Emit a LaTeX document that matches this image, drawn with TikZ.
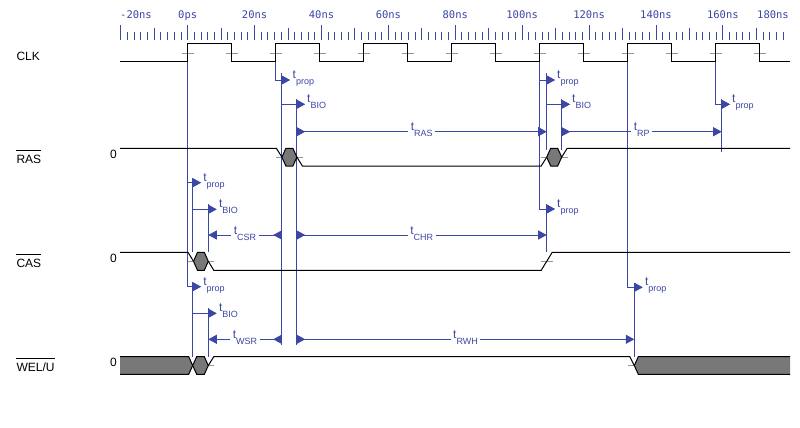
\documentclass[tikz,border=0pt]{standalone}
\usepackage{fontspec}
\setmainfont{Liberation Sans}
\newfontfamily\rulerfont{DejaVu Sans Mono}
\usetikzlibrary{arrows.meta}
\definecolor{tdblue}{RGB}{60,70,165}
\definecolor{tdgray}{RGB}{120,120,120}
\definecolor{tdmark}{RGB}{150,150,150}
\newcommand{\tsub}[1]{t\raisebox{-6pt}{\fontsize{9}{9}\selectfont #1}}
\tikzset{
  wave/.style={line width=1pt, black},
  uncert/.style={wave, fill=tdgray},
  edgemark/.style={tdmark, line width=0.8pt},
  marker/.style={tdblue, line width=1pt},
  dly/.style={marker, -{Triangle[length=8.5pt,width=9pt]}},
  cstr/.style={marker, {Triangle[length=8.5pt,width=9pt,reversed]}-{Triangle[length=8.5pt,width=9pt]}},
  tlab/.style={text=tdblue, font=\fontsize{12}{12}\selectfont, inner sep=0pt, anchor=base west},
  tmid/.style={tlab, anchor=base, fill=white, inner xsep=2.5pt, inner ysep=1pt},
  sig/.style={font=\fontsize{12}{12}\selectfont, inner sep=0pt, anchor=base west},
  rlab/.style={text=tdblue, font=\rulerfont\fontsize{10.5}{10.5}\selectfont, inner sep=0pt, anchor=base},
  rtick/.style={tdblue, line width=1pt}
}
\begin{document}
\begin{tikzpicture}[x=1pt,y=-1pt]
  \path[use as bounding box, fill=white] (0,0) rectangle (800,428);

  %% time ruler
  \foreach \i in {0,...,99} {
    \pgfmathsetmacro\tx{120.8+6.69*\i}
    \pgfmathtruncatemacro\m{mod(\i,10)}
    \ifnum\m=0 \def\ty{25}\else\ifnum\m=5 \def\ty{28.3}\else\def\ty{32.3}\fi\fi
    \draw[rtick] (\tx,40) -- (\tx,\ty);
  }
  \node[rlab, anchor=base west] (r0) at (120,19) {-20ns};
  \foreach \lab [count=\k from 1] in {0ps,20ns,40ns,60ns,80ns,100ns,120ns,140ns,160ns}
    \node[rlab] (r\k) at ({187.7+66.9*(\k-1)},19) {\lab};
  \node[rlab, anchor=base east] (r10) at (789,19) {180ns};

  %% signal names
  \node[sig] (lclk) at (16.3,60.3) {CLK};
  \node[sig] (lras) at (16.3,163.3) {RAS};
  \node[sig] (lcas) at (16.3,267.3) {CAS};
  \node[sig] (lwe)  at (16.3,371.7) {WEL/U};
  \foreach \n in {lras,lcas,lwe}
    \draw[line width=1pt] ([yshift=4pt]\n.north west) -- ([yshift=4pt]\n.north east);
  \node[sig] (zras) at (110,158.3) {0};
  \node[sig] (zcas) at (110,262.7) {0};
  \node[sig] (zwe)  at (110,366.7) {0};

  %% markers from clock edges
  \draw[dly] (187.7,62) |- (201.2,286.7);
  \draw[dly] (187.7,182.7) -- (201.2,182.7);
  \draw[dly] (275.7,62) |- (290.2,80);
  \draw[dly] (539.7,62) |- (555.2,209);
  \draw[dly] (539.7,80) -- (555.2,80);
  \draw[dly] (627.7,62) |- (642.8,287.3);
  \draw[dly] (715.7,62) |- (730.2,104.3);

  \draw[marker] (281.7,73) -- (281.7,345);
  \draw[marker] (296.7,99.3) -- (296.7,345);
  \draw[marker] (546.7,73) -- (546.7,150);
  \draw[marker] (561.7,99.3) -- (561.7,150);
  \draw[marker] (721.7,99.3) -- (721.7,151.7);
  \draw[marker] (192.7,178) -- (192.7,252.3);
  \draw[marker] (208.3,204.3) -- (208.3,252.3);
  \draw[marker] (546.7,204) -- (546.7,252.3);
  \draw[marker] (192.7,282) -- (192.7,356.7);
  \draw[marker] (208.3,308.3) -- (208.3,356.7);
  \draw[marker] (634.3,282.5) -- (634.3,356.7);

  \draw[dly] (281.7,104.3) -- (305.2,104.3);
  \draw[dly] (546.7,104.3) -- (570.2,104.3);
  \draw[dly] (192.7,209.3) -- (216.8,209.3);
  \draw[dly] (192.7,313.3) -- (216.8,313.3);

  \draw[cstr] (296.7,131.7) -- (546.7,131.7);
  \draw[cstr] (561.7,131.7) -- (721.7,131.7);
  \draw[cstr] (281.7,235) -- (208.3,235);
  \draw[cstr] (296.7,235) -- (546.7,235);
  \draw[cstr] (281.7,339.3) -- (208.3,339.3);
  \draw[cstr] (296.7,339.3) -- (634.3,339.3);

  %% delay labels
  \node[tlab] (p1) at (292.5,78.5) {\tsub{prop}};
  \node[tlab] (b1) at (307,102.8) {\tsub{BIO}};
  \node[tlab] (p2) at (557,78.5) {\tsub{prop}};
  \node[tlab] (b2) at (572,102.8) {\tsub{BIO}};
  \node[tlab] (p3) at (732,102.8) {\tsub{prop}};
  \node[tlab] (p4) at (203.2,181.2) {\tsub{prop}};
  \node[tlab] (b3) at (218.8,207.8) {\tsub{BIO}};
  \node[tlab] (p5) at (557,207.5) {\tsub{prop}};
  \node[tlab] (p6) at (203.2,285.2) {\tsub{prop}};
  \node[tlab] (b4) at (218.8,311.8) {\tsub{BIO}};
  \node[tlab] (p7) at (644.8,285.8) {\tsub{prop}};

  \node[tmid] (tras) at (421.7,130.7) {\tsub{RAS}};
  \node[tmid] (trp)  at (641.7,130.7) {\tsub{RP}};
  \node[tmid] (tcsr) at (245,234) {\tsub{CSR}};
  \node[tmid] (tchr) at (421.7,234) {\tsub{CHR}};
  \node[tmid] (twsr) at (245,338.3) {\tsub{WSR}};
  \node[tmid] (trwh) at (465.5,338.3) {\tsub{RWH}};

  %% edge marks
  \foreach \k in {0,...,13} \draw[edgemark] ({181.7+44*\k},53) -- +(12,0);
  \draw[edgemark] (275.9,157.15) -- (302.9,157.15);
  \draw[edgemark] (540.7,157.15) -- (567.7,157.15);
  \draw[edgemark] (187.5,261.3) -- (214.3,261.3);
  \draw[edgemark] (540.7,261.3) -- (552.7,261.3);
  \draw[edgemark] (187.7,365.5) -- (214.3,365.5);
  \draw[edgemark] (628.3,365.5) -- (640.3,365.5);

  %% CLK
  \draw[wave] (120,62) \foreach \k in {0,...,6} {
      -- ({187.7+88*\k},62) -- ({187.7+88*\k},44) -- ({231.7+88*\k},44) -- ({231.7+88*\k},62) } -- (790,62);

  %% RAS
  \draw[wave] (120,148.3) -- (276.4,148.3) -- (281.9,157.15);
  \draw[uncert] (281.9,157.15) -- (285.9,148.3) -- (292.9,148.3) -- (296.9,157.15) -- (292.9,166) -- (285.9,166) -- cycle;
  \draw[wave] (296.9,157.15) -- (302.4,166) -- (541.2,166) -- (546.7,157.15);
  \draw[uncert] (546.7,157.15) -- (550.7,148.3) -- (557.7,148.3) -- (561.7,157.15) -- (557.7,166) -- (550.7,166) -- cycle;
  \draw[wave] (561.7,157.15) -- (567.2,148.3) -- (790,148.3);

  %% CAS
  \draw[wave] (120,252.3) -- (188,252.3) -- (193.5,261.3);
  \draw[uncert] (193.5,261.3) -- (197.5,252.3) -- (204.3,252.3) -- (208.3,261.3) -- (204.3,270.3) -- (197.5,270.3) -- cycle;
  \draw[wave] (208.3,261.3) -- (213.8,270.3) -- (541.2,270.3) -- (552.2,252.3) -- (790,252.3);

  %% WEL/U
  \fill[tdgray] (120,356.7) -- (188.7,356.7) -- (192.7,365.5) -- (188.7,374.3) -- (120,374.3) -- cycle;
  \draw[wave] (120,356.7) -- (188.7,356.7) -- (192.7,365.5) -- (188.7,374.3) -- (120,374.3);
  \draw[uncert] (192.7,365.5) -- (196.7,356.7) -- (204.3,356.7) -- (208.3,365.5) -- (204.3,374.3) -- (196.7,374.3) -- cycle;
  \draw[wave] (208.3,365.5) -- (213.8,356.7) -- (629.8,356.7) -- (634.3,365.5);
  \fill[tdgray] (634.3,365.5) -- (638.3,356.7) -- (790,356.7) -- (790,374.3) -- (638.3,374.3) -- cycle;
  \draw[wave] (790,356.7) -- (638.3,356.7) -- (634.3,365.5) -- (638.3,374.3) -- (790,374.3);
\end{tikzpicture}
\end{document}
